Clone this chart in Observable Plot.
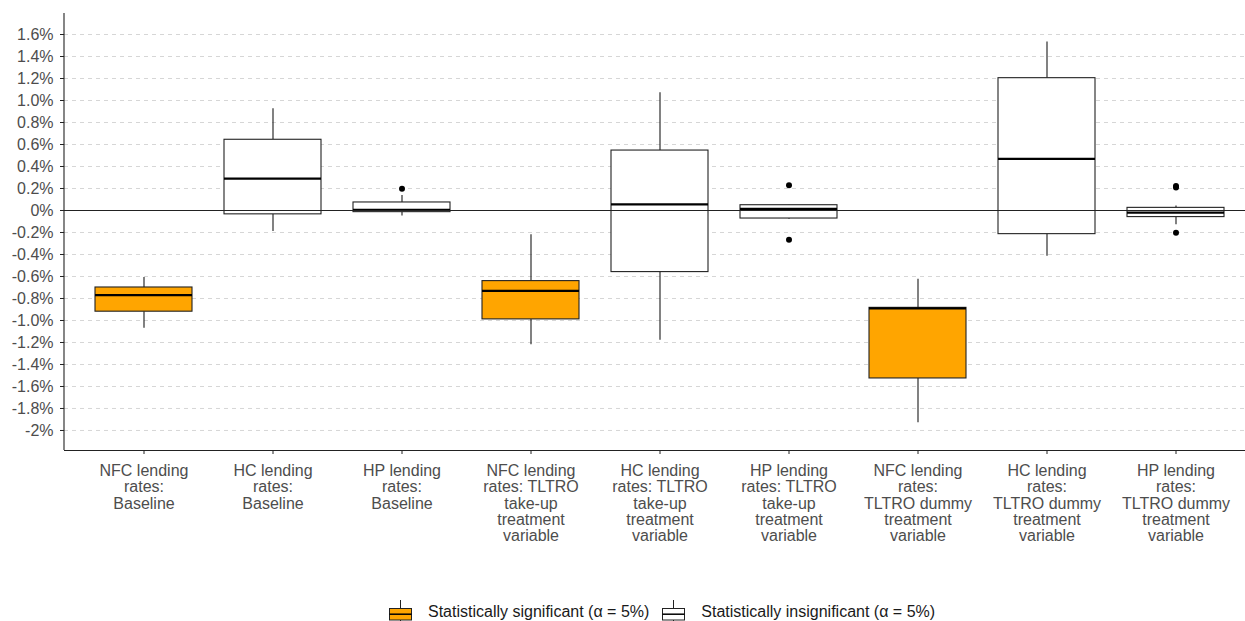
<!DOCTYPE html>
<html>
<head>
<meta charset="utf-8">
<script src="https://cdn.jsdelivr.net/npm/d3@7"></script>
<script src="https://cdn.jsdelivr.net/npm/@observablehq/plot@0.6"></script>
<style>
  html, body { margin: 0; padding: 0; background: #fff; overflow: hidden; }
  body { font-family: "Liberation Sans", Arial, sans-serif; width: 1245px; height: 621px; position: relative; }
  #chart { position: absolute; left: 0; top: 0; width: 1245px; height: 580px; overflow: hidden; }
  #legend { position: absolute; top: 600px; left: 388px; height: 24px; display: flex; align-items: center;
            font-size: 16px; color: #1a1a1a; white-space: nowrap; }
  #legend .item { display: flex; align-items: center; }
  #legend .item svg { margin-right: 15px; }
  #legend .item + .item { margin-left: 12px; }
</style>
</head>
<body>
<div id="chart"></div>
<div id="legend"></div>
<script>
// ---- Data (values in percent) ----
const categories = ["NFC_base", "HC_base", "HP_base", "NFC_takeup", "HC_takeup", "HP_takeup", "NFC_dummy", "HC_dummy", "HP_dummy"];
const tickLabels = [
  "NFC lending\nrates:\nBaseline",
  "HC lending\nrates:\nBaseline",
  "HP lending\nrates:\nBaseline",
  "NFC lending\nrates: TLTRO\ntake-up\ntreatment\nvariable",
  "HC lending\nrates: TLTRO\ntake-up\ntreatment\nvariable",
  "HP lending\nrates: TLTRO\ntake-up\ntreatment\nvariable",
  "NFC lending\nrates:\nTLTRO dummy\ntreatment\nvariable",
  "HC lending\nrates:\nTLTRO dummy\ntreatment\nvariable",
  "HP lending\nrates:\nTLTRO dummy\ntreatment\nvariable"
];
const significant = [true, false, false, true, false, false, true, false, false];
const whiskerLow  = [-1.07, -0.19, -0.05, -1.22, -1.18, -0.08, -1.93, -0.415, -0.13];
const q1          = [-0.92, -0.035, -0.015, -0.99, -0.56, -0.073, -1.527, -0.215, -0.06];
const median      = [-0.77, 0.29, 0.005, -0.73, 0.055, 0.015, -0.89, 0.47, -0.02];
const q3          = [-0.70, 0.643, 0.073, -0.642, 0.545, 0.048, -0.885, 1.203, 0.024];
const whiskerHigh = [-0.61, 0.925, 0.136, -0.22, 1.07, 0.05, -0.624, 1.533, 0.04];
const outlierCategory = ["HP_base", "HP_takeup", "HP_takeup", "HP_dummy", "HP_dummy", "HP_dummy"];
const outlierValue    = [0.197, 0.23, -0.267, 0.21, 0.222, -0.203];
const yTicks      = [-2, -1.8, -1.6, -1.4, -1.2, -1, -0.8, -0.6, -0.4, -0.2, 0, 0.2, 0.4, 0.6, 0.8, 1, 1.2, 1.4, 1.6];
const yTickLabels = ["-2%", "-1.8%", "-1.6%", "-1.4%", "-1.2%", "-1.0%", "-0.8%", "-0.6%", "-0.4%", "-0.2%", "0%",
                     "0.2%", "0.4%", "0.6%", "0.8%", "1.0%", "1.2%", "1.4%", "1.6%"];
const legendLabels = ["Statistically significant (\u03b1 = 5%)", "Statistically insignificant (\u03b1 = 5%)"];
const legendFills = ["#FFA500", "#FFFFFF"];

// ---- Build tables ----
const boxes = categories.map((c, i) => ({
  cat: c, lo: whiskerLow[i], q1: q1[i], med: median[i], q3: q3[i], hi: whiskerHigh[i], sig: significant[i]
}));
const outliers = outlierCategory.map((c, i) => ({cat: c, v: outlierValue[i]}));

const leftAxisLine = (index, scales, values, dims) => {
  const l = document.createElementNS("http://www.w3.org/2000/svg", "line");
  l.setAttribute("x1", dims.marginLeft); l.setAttribute("x2", dims.marginLeft);
  l.setAttribute("y1", dims.marginTop); l.setAttribute("y2", dims.height - dims.marginBottom);
  l.setAttribute("stroke", "#222"); l.setAttribute("stroke-width", "1.1");
  return l;
};

const chart = Plot.plot({
  width: 1245,
  height: 580,
  marginTop: 13,
  marginBottom: 130,
  marginLeft: 64,
  marginRight: 0,
  style: {fontFamily: "'Liberation Sans', Arial, sans-serif", fontSize: "16px", color: "#4d4d4d", background: "#fff"},
  x: {type: "band", domain: categories, range: [64, 1254], paddingInner: 0.25, paddingOuter: 0.225, align: 0.5},
  y: {domain: [-2.182, 1.791]},
  marks: [
    Plot.ruleY(yTicks.filter(d => d !== 0), {stroke: "#d6d6d6", strokeWidth: 1, strokeDasharray: "4,4"}),
    Plot.ruleX(boxes, {x: "cat", y1: "lo", y2: "q1", stroke: "#1a1a1a", strokeWidth: 1.1}),
    Plot.ruleX(boxes, {x: "cat", y1: "q3", y2: "hi", stroke: "#1a1a1a", strokeWidth: 1.1}),
    Plot.barY(boxes.filter(d => d.sig), {x: "cat", y1: "q1", y2: "q3", fill: legendFills[0], stroke: "#222", strokeWidth: 1.1}),
    Plot.barY(boxes.filter(d => !d.sig), {x: "cat", y1: "q1", y2: "q3", fill: legendFills[1], stroke: "#222", strokeWidth: 1.1}),
    Plot.tickY(boxes, {x: "cat", y: "med", stroke: "#000", strokeWidth: 2.3}),
    Plot.dot(outliers, {x: "cat", y: "v", r: 3, fill: "#000", stroke: "none"}),
    Plot.ruleY([0], {stroke: "#222", strokeWidth: 1.1}),
    Plot.ruleY([-2.182], {stroke: "#222", strokeWidth: 1.1}),
    leftAxisLine,
    Plot.axisY({ticks: yTicks, tickFormat: d => yTickLabels[yTicks.indexOf(d)], tickSize: 4, tickPadding: 7,
                fontSize: 16, stroke: "#222", fill: "#4d4d4d", label: null}),
    Plot.axisX({tickFormat: d => tickLabels[categories.indexOf(d)], tickSize: 4, tickPadding: 10,
                lineHeight: 1.02, fontSize: 16, stroke: "#222", fill: "#4d4d4d", label: null})
  ]
});
document.getElementById("chart").appendChild(chart);

// ---- Legend (boxplot-style keys) ----
const legend = d3.select("#legend");
legendLabels.forEach((lab, i) => {
  const item = legend.append("span").attr("class", "item");
  const s = item.append("svg").attr("width", 25).attr("height", 24);
  s.append("line").attr("x1", 12.5).attr("x2", 12.5).attr("y1", 0).attr("y2", 8).attr("stroke", "#222");
  s.append("line").attr("x1", 12.5).attr("x2", 12.5).attr("y1", 20).attr("y2", 24).attr("stroke", "#222");
  s.append("rect").attr("x", 1.5).attr("y", 8.5).attr("width", 22).attr("height", 11.5)
    .attr("fill", legendFills[i]).attr("stroke", "#222");
  s.append("line").attr("x1", 1.5).attr("x2", 23.5).attr("y1", 14.2).attr("y2", 14.2).attr("stroke", "#000").attr("stroke-width", 1.5);
  item.append("span").text(lab);
});
</script>
</body>
</html>
